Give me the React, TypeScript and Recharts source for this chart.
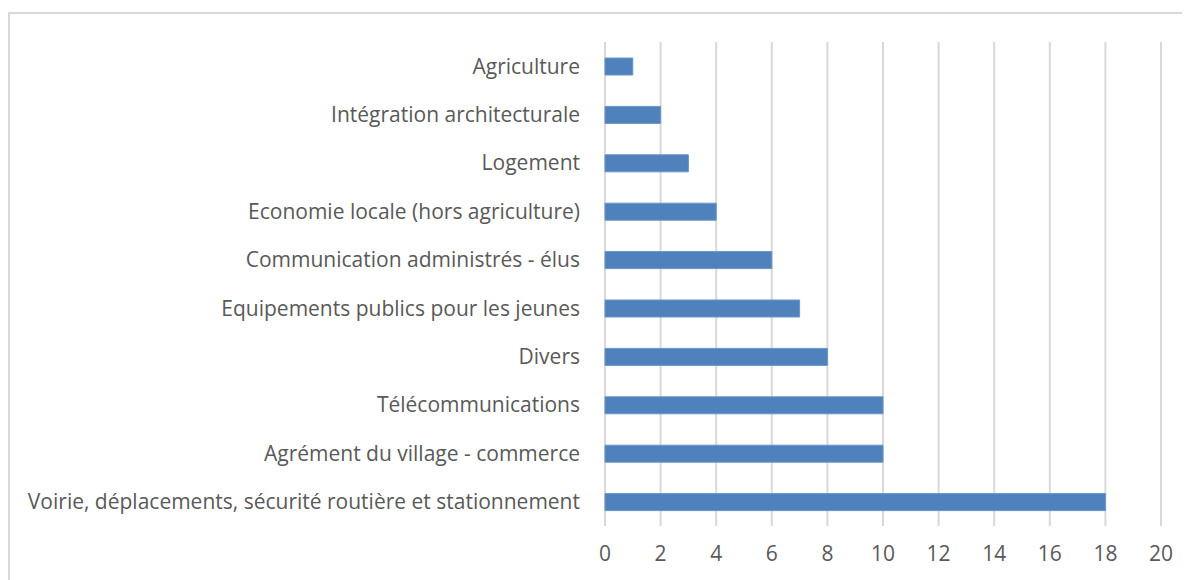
import { BarChart, Bar, XAxis, YAxis, CartesianGrid } from 'recharts';

const categories = [
  'Agriculture',
  'Intégration architecturale',
  'Logement',
  'Economie locale (hors agriculture)',
  'Communication administrés - élus',
  'Equipements publics pour les jeunes ',
  'Divers',
  'Télécommunications',
  'Agrément du village - commerce',
  'Voirie, déplacements, sécurité routière et stationnement',
];
const counts = [1, 2, 3, 4, 6, 7, 8, 10, 10, 18];
const xTicks = [0, 2, 4, 6, 8, 10, 12, 14, 16, 18, 20];

const data = categories.map((name, i) => ({ name, value: counts[i] }));

const textStyle = { fill: '#595959', fontSize: 21, fontFamily: '"Open Sans", sans-serif' };

export default function App() {
  return (
    <div
      style={{
        marginTop: 4,
        width: 1182,
        height: 568,
        borderTop: '2px solid #d9d9d9',
        borderLeft: '2px solid #d9d9d9',
        boxSizing: 'border-box',
        background: '#fff',
      }}
    >
      <BarChart
        width={1180}
        height={566}
        data={data}
        layout="vertical"
        margin={{ top: 28, right: 29, bottom: 0, left: 0 }}
        barCategoryGap={0}
      >
        <CartesianGrid horizontal={false} stroke="#d9d9d9" strokeWidth={2} />
        <XAxis
          type="number"
          domain={[0, 20]}
          ticks={xTicks}
          axisLine={false}
          tickLine={false}
          tickSize={0}
          tickMargin={20}
          height={54}
          tick={textStyle}
          interval={0}
        />
        <YAxis
          type="category"
          dataKey="name"
          width={595}
          axisLine={false}
          tickLine={false}
          tickSize={0}
          tickMargin={25}
          tick={textStyle}
          interval={0}
        />
        <Bar dataKey="value" fill="#4f81bd" stroke="#6a95c9" strokeWidth={1} barSize={17} isAnimationActive={false} />
      </BarChart>
    </div>
  );
}
